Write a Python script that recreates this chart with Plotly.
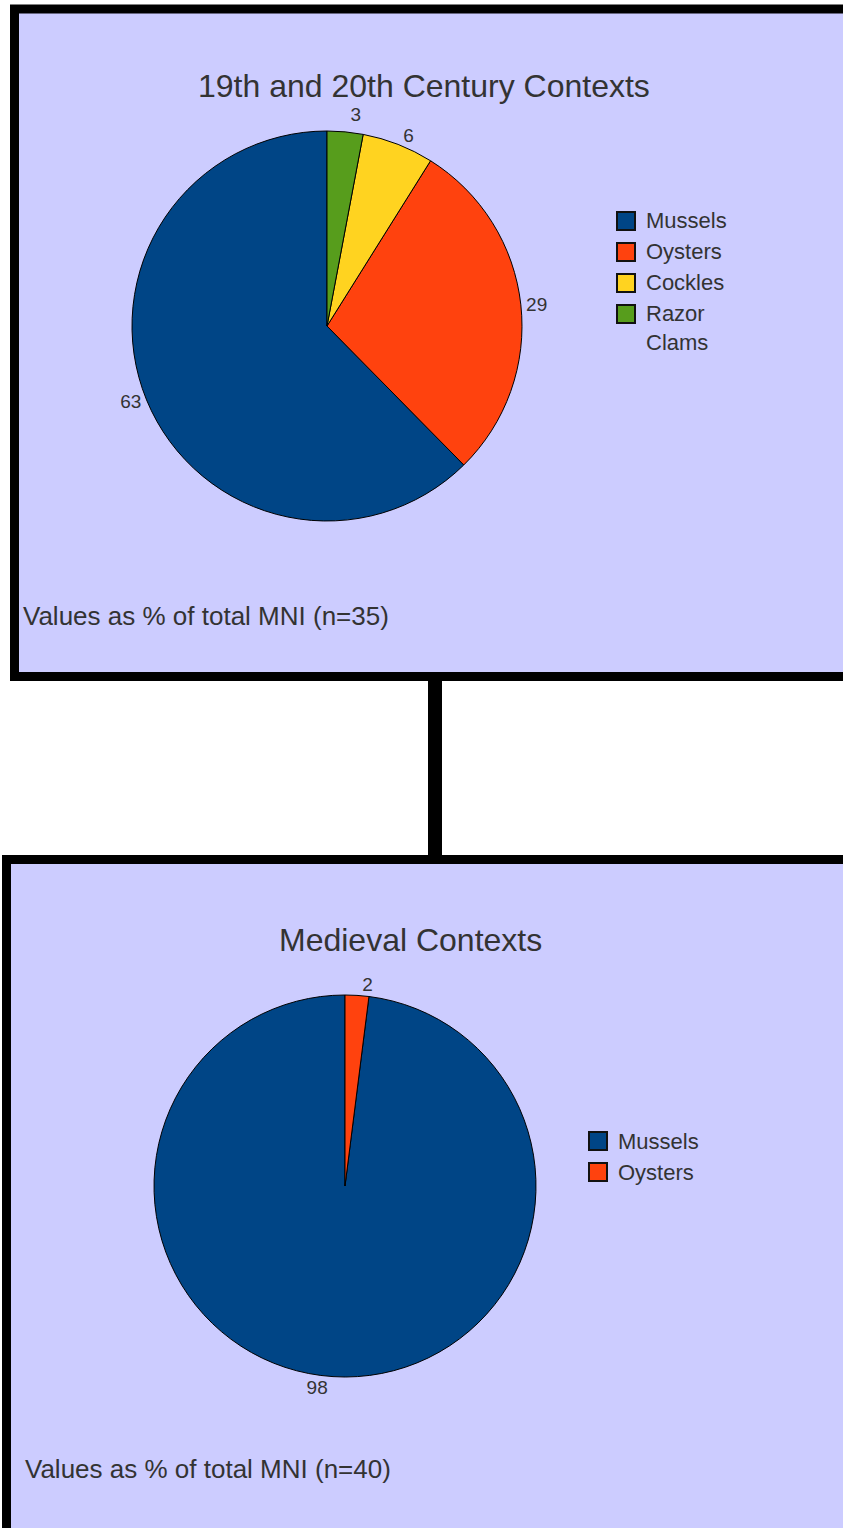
import plotly.graph_objects as go

# ---- data ----
modern_categories = ["Mussels", "Oysters", "Cockles", "Razor Clams"]
modern_values = [63, 29, 6, 3]
modern_colors = ["#004586", "#ff420e", "#ffd320", "#579d1c"]

medieval_categories = ["Mussels", "Oysters"]
medieval_values = [98, 2]
medieval_colors = ["#004586", "#ff420e"]

modern_title = "19th and 20th Century Contexts"
medieval_title = "Medieval Contexts"
modern_note = "Values as % of total MNI (n=35)"
medieval_note = "Values as % of total MNI (n=40)"

# ---- layout helpers (pixel -> paper) ----
W, H = 843, 1528
def px(x):
    return x / W
def py(y):
    return 1 - y / H

FONT = "Liberation Sans, Arial, sans-serif"
TXT = "#333333"
PANEL = "#ccccff"
LEG_FONT = 22
LEG_STEP = 31
LINE_H = 1.3 * LEG_FONT

def wrap(s):
    return s.replace("Razor ", "Razor<br>")

def pie_domain(cx, cy, r):
    return dict(x=[px(cx - r), px(cx + r)], y=[py(cy + r), py(cy - r)])

def start_rotation(values):
    # first slice runs counterclockwise from 12 o'clock, the rest follow it
    return 360 - 360 * values[0] / sum(values)

fig = go.Figure()

def add_pie(cats, vals, cols, cx, cy, r):
    fig.add_trace(go.Pie(
        labels=cats, values=vals,
        marker=dict(colors=cols, line=dict(color="black", width=1)),
        sort=False, direction="counterclockwise", rotation=start_rotation(vals),
        textposition="outside", texttemplate="%{value}",
        outsidetextfont=dict(family=FONT, size=19, color=TXT),
        domain=pie_domain(cx, cy, r),
        showlegend=False, hoverinfo="label+value",
    ))

add_pie(modern_categories, modern_values, modern_colors, 327, 326, 195)
add_pie(medieval_categories, medieval_values, medieval_colors, 345, 1186, 191)

shapes = [
    # top panel
    dict(type="rect", xref="paper", yref="paper",
         x0=px(14.5), x1=px(900), y0=py(676.5), y1=py(9),
         fillcolor=PANEL, line=dict(color="black", width=9), layer="below"),
    # connector
    dict(type="rect", xref="paper", yref="paper",
         x0=px(428), x1=px(442), y0=py(859), y1=py(677),
         fillcolor="black", line=dict(width=0), layer="below"),
    # bottom panel
    dict(type="rect", xref="paper", yref="paper",
         x0=px(6.5), x1=px(900), y0=py(1600), y1=py(859.5),
         fillcolor=PANEL, line=dict(color="black", width=9), layer="below"),
]

annotations = [
    dict(text=modern_title, x=px(424), y=py(86), xref="paper", yref="paper",
         xanchor="center", yanchor="middle", showarrow=False,
         font=dict(family=FONT, size=32, color=TXT)),
    dict(text=medieval_title, x=px(410), y=py(940), xref="paper", yref="paper",
         xanchor="center", yanchor="middle", showarrow=False,
         font=dict(family=FONT, size=32, color=TXT)),
    dict(text=modern_note, x=px(21), y=py(616), xref="paper", yref="paper",
         xanchor="left", yanchor="middle", showarrow=False,
         font=dict(family=FONT, size=26, color=TXT)),
    dict(text=medieval_note, x=px(23), y=py(1469), xref="paper", yref="paper",
         xanchor="left", yanchor="middle", showarrow=False,
         font=dict(family=FONT, size=26, color=TXT)),
]

def add_legend(cats, cols, sq_x, text_x, y_first):
    for i, (c, col) in enumerate(zip(cats, cols)):
        yc = y_first + i * LEG_STEP
        shapes.append(dict(type="rect", xref="paper", yref="paper",
                           x0=px(sq_x), x1=px(sq_x + 18), y0=py(yc + 9), y1=py(yc - 9),
                           fillcolor=col, line=dict(color="#111111", width=2), layer="above"))
        label = wrap(c)
        n_lines = label.count("<br>") + 1
        annotations.append(dict(text=label, x=px(text_x), y=py(yc + (n_lines - 1) * LINE_H / 2),
                                xref="paper", yref="paper", xanchor="left", yanchor="middle",
                                align="left", showarrow=False,
                                font=dict(family=FONT, size=LEG_FONT, color=TXT)))

add_legend(modern_categories, modern_colors, 617, 644, 221)
add_legend(medieval_categories, medieval_colors, 589, 616, 1141)

fig.update_layout(
    width=W, height=H,
    margin=dict(l=0, r=0, t=0, b=0),
    paper_bgcolor="white", plot_bgcolor="white",
    shapes=shapes, annotations=annotations,
    showlegend=False,
)

hide_leader_lines = (
    "var s=document.createElement('style');"
    "s.textContent='path.textline{display:none !important;}';"
    "document.head.appendChild(s);"
)

fig.write_html("out.html", post_script=hide_leader_lines)
